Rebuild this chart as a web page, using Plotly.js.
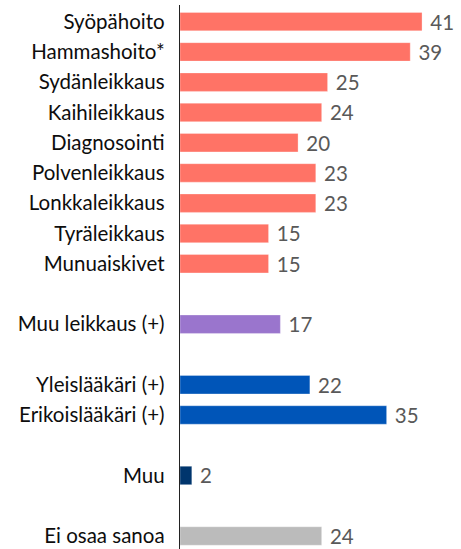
<!DOCTYPE html>
<html><head><meta charset="utf-8">
<script src="https://cdn.plot.ly/plotly-3.0.1.min.js"></script>
<style>html,body{margin:0;padding:0;background:#fff}#chart{width:461px;height:549px}</style>
</head><body><div id="chart"></div>
<script>
// Data
const categories = ["Syöpähoito","Hammashoito*","Sydänleikkaus","Kaihileikkaus","Diagnosointi","Polvenleikkaus","Lonkkaleikkaus","Tyräleikkaus","Munuaiskivet","Muu leikkaus (+)","Yleislääkäri (+)","Erikoislääkäri (+)","Muu","Ei osaa sanoa"];
const values = [41,39,25,24,20,23,23,15,15,17,22,35,2,24];
const groups = [0,0,0,0,0,0,0,0,0,1,2,2,3,4];
const groupColors = ["#FF7366","#9A75CD","#0055B8","#00356D","#BBBBBB"];

// slot positions: one empty slot between groups
const slots = [];
let s = 0;
groups.forEach((g,i)=>{ if(i>0 && g!==groups[i-1]) s++; slots.push(s); s++; });

const trace = {
  type:'bar', orientation:'h',
  x: values, y: slots,
  width: 0.61,
  marker:{color: groups.map(g=>groupColors[g]), line:{color:'rgba(255,255,255,0.6)', width:0.5}},
  text: values.map(v=>'\u00a0'+v),
  textposition:'outside',
  constraintext:'none',
  textfont:{family:'Lato, "Open Sans", sans-serif', size:20.5, color:'#595959'},
  cliponaxis:false,
  hoverinfo:'none'
};

const layout = {
  width:461, height:549,
  margin:{l:180, r:0, t:5, b:0},
  paper_bgcolor:'#fff', plot_bgcolor:'#fff',
  showlegend:false,
  xaxis:{range:[0,47.6], showgrid:false, zeroline:false, showticklabels:false, showline:false, ticks:''},
  yaxis:{range:[17.43,-0.55], tickvals:slots, ticktext:categories, showgrid:false, zeroline:false,
    showline:true, linecolor:'#222', linewidth:1.3, ticks:'', ticklabelstandoff:10,
    tickfont:{family:'Lato, "Open Sans", sans-serif', size:20.5, color:'#0d0d0d'}}
};
Plotly.newPlot('chart',[trace],layout,{staticPlot:true,displayModeBar:false});
</script></body></html>
